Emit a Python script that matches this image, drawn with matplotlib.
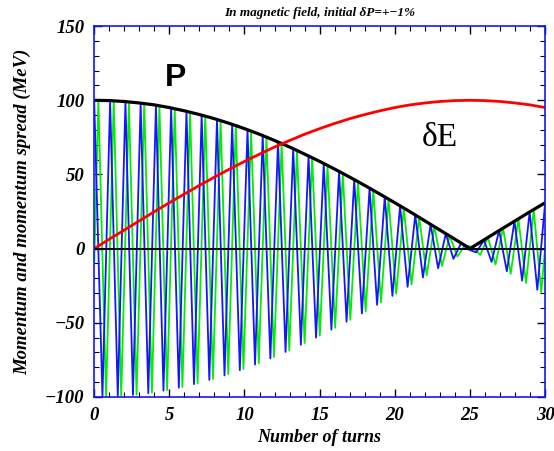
import matplotlib
matplotlib.use("Agg")
import matplotlib.pyplot as plt
from matplotlib.ticker import MultipleLocator

# extrema of the two oscillating momenta (turn, MeV)
blue_t = [0.00, 0.55, 1.06, 1.57, 2.08, 2.58, 3.09, 3.60, 4.11, 4.61,
          5.12, 5.63, 6.14, 6.64, 7.15, 7.66, 8.17, 8.67, 9.18, 9.69,
          10.20, 10.70, 11.21, 11.72, 12.23, 12.73, 13.24, 13.75, 14.26, 14.76,
          15.27, 15.78, 16.29, 16.79, 17.30, 17.81, 18.32, 18.82, 19.33, 19.84,
          20.35, 20.85, 21.36, 21.87, 22.38, 22.88, 23.39, 23.90, 24.41, 24.91,
          25.42, 25.93, 26.44, 26.94, 27.45, 27.96, 28.47, 28.97, 29.48, 30.00]
blue_v = [100.0, -99.9, 99.8, -99.5, 99.1, -98.7, 98.1, -97.5, 96.7, -95.8,
          94.9, -93.8, 92.7, -91.4, 90.1, -88.6, 87.1, -85.5, 83.8, -82.0,
          80.2, -78.2, 76.2, -74.1, 71.9, -69.7, 67.4, -64.9, 62.5, -60.0,
          57.4, -54.7, 52.0, -49.3, 46.5, -43.7, 40.7, -37.9, 34.9, -31.9,
          28.8, -25.8, 22.7, -19.5, 16.4, -13.3, 10.1, -6.9, 3.7, -0.6,
          -2.6, 5.8, -9.0, 12.2, -15.3, 18.5, -21.6, 24.7, -27.8, 30.8]

green_t = [0.00, 0.28, 0.79, 1.30, 1.80, 2.31, 2.82, 3.33, 3.84, 4.34, 4.85,
           5.36, 5.87, 6.38, 6.88, 7.39, 7.90, 8.41, 8.92, 9.42, 9.93,
           10.44, 10.95, 11.46, 11.96, 12.47, 12.98, 13.49, 14.00, 14.50, 15.01,
           15.52, 16.03, 16.54, 17.04, 17.55, 18.06, 18.57, 19.08, 19.58, 20.09,
           20.60, 21.11, 21.62, 22.12, 22.63, 23.14, 23.65, 24.16, 24.66, 25.17,
           25.68, 26.19, 26.70, 27.20, 27.71, 28.22, 28.73, 29.24, 29.74, 30.00]
green_v = [-10.0, 100.0, -99.9, 99.7, -99.4, 98.9, -98.4, 97.8, -97.1, 96.3, -95.4,
           94.4, -93.3, 92.1, -90.8, 89.4, -87.9, 86.4, -84.7, 83.0, -81.2,
           79.3, -77.3, 75.2, -73.1, 70.9, -68.6, 66.2, -63.7, 61.3, -58.7,
           56.1, -53.4, 50.7, -48.0, 45.1, -42.2, 39.3, -36.3, 33.4, -30.4,
           27.3, -24.2, 21.1, -18.0, 14.8, -11.7, 8.5, -5.3, 2.1, 1.1,
           -4.3, 7.5, -10.7, 13.8, -17.0, 20.1, -23.2, 26.3, -29.3, 1.0]

# momentum envelope (P) and energy spread (dE), per turn
turns = list(range(31))
p_env = [100, 99.8, 99.2, 98.2, 96.9, 95.1, 92.9, 90.4, 87.6, 84.4,
         80.9, 77.1, 72.9, 68.5, 63.7, 58.8, 53.6, 48.2, 42.6, 36.8,
         30.9, 24.9, 18.7, 12.5, 6.3, 0.0, 6.3, 12.5, 18.7, 24.9, 30.9]
de_curve = [0, 6.3, 12.5, 18.7, 24.9, 30.9, 36.8, 42.6, 48.2, 53.6,
            58.8, 63.7, 68.5, 72.9, 77.1, 80.9, 84.4, 87.6, 90.4, 92.9,
            95.1, 96.9, 98.2, 99.2, 99.8, 100, 99.8, 99.2, 98.2, 96.9, 95.1]

serif = ["Liberation Serif", "DejaVu Serif"]
lab = dict(family=serif, weight="bold", style="italic")

fig = plt.figure(figsize=(5.54, 4.51), dpi=100)
ax = fig.add_axes([0.170, 0.120, 0.814, 0.822])

ax.plot(green_t, green_v, color="#00ee00", linewidth=1.3)
ax.plot(blue_t, blue_v, color="#1515ff", linewidth=1.3)
ax.plot(turns, p_env, color="black", linewidth=2.3)
ax.plot(turns, de_curve, color="#ff0000", linewidth=2.0)
ax.axhline(0, color="black", linewidth=1.4)

ax.set_xlim(0, 30)
ax.set_ylim(-100, 150)
ax.xaxis.set_major_locator(MultipleLocator(5))
ax.xaxis.set_minor_locator(MultipleLocator(1))
ax.yaxis.set_major_locator(MultipleLocator(50))
ax.yaxis.set_minor_locator(MultipleLocator(10))
ax.tick_params(which="both", direction="in", top=True, right=True, color="black")
ax.tick_params(which="major", length=6, width=1.0, pad=7)
ax.tick_params(which="minor", length=3.5, width=0.8)
for s in ax.spines.values():
    s.set_color("#1515ff")
    s.set_linewidth(1.2)
for t in ax.get_xticklabels() + ax.get_yticklabels():
    t.set_fontfamily(serif)
    t.set_fontweight("bold")
    t.set_fontstyle("italic")
    t.set_fontsize(13.5)

ax.set_xlabel("Number of turns", fontsize=13, labelpad=4, **lab)
ax.set_ylabel("Momentum and momentum spread (MeV)", fontsize=13.5, labelpad=10, **lab)
ax.set_title("In magnetic field, initial \u03b4P=+\u22121%", fontsize=9.5, pad=7, **lab)

ax.text(5.4, 115, "P", fontsize=23, fontweight="bold", family=["Liberation Sans", "DejaVu Sans"],
        ha="center", va="center")
ax.text(23.0, 75, "\u03b4E", fontsize=24, family=serif, ha="center", va="center")

fig.savefig("out.png", dpi=100)
